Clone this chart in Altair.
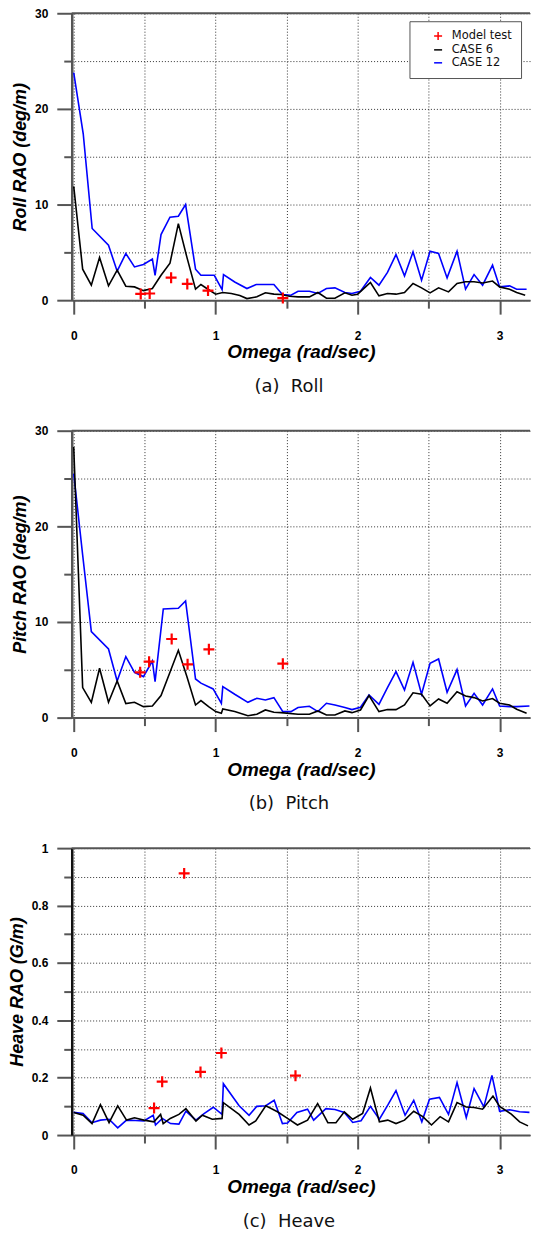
import altair as alt
import pandas as pd

# ---------------- data ----------------
SERIES = ["Model test", "CASE 6", "CASE 12"]
SERIES_COLORS = ["#ff0000", "#000000", "#0000ff"]
PLUS = "M-1,0L1,0M0,-1L0,1"
SERIES_SHAPES = [PLUS, "stroke", "stroke"]

# (a) Roll
roll_c6_x = [0, 0.063, 0.124, 0.182, 0.245, 0.306, 0.367, 0.428, 0.491, 0.554, 0.615, 0.678, 0.737, 0.797,
             0.858, 0.896, 0.94, 1.0, 1.05, 1.11, 1.17, 1.22, 1.29, 1.35, 1.41, 1.46, 1.52, 1.58, 1.66, 1.72,
             1.78, 1.84, 1.91, 1.96, 2.0, 2.09, 2.15, 2.21, 2.27, 2.33, 2.39, 2.45, 2.51, 2.57, 2.64, 2.7,
             2.76, 2.82, 2.88, 2.95, 3.0, 3.07, 3.12, 3.18]
roll_c6_y = [11.9, 3.24, 1.57, 4.46, 1.5, 3.14, 1.46, 1.39, 1.0, 1.22, 2.6, 3.87, 8.0, 4.5,
             1.15, 1.64, 1.2, 0.63, 0.8, 0.7, 0.5, 0.17, 0.35, 0.77, 0.63, 0.6, 0.42, 0.35, 0.35, 0.8,
             0.2, 0.2, 0.77, 0.52, 0.63, 1.85, 0.45, 0.7, 0.63, 0.8, 1.74, 1.29, 0.77, 1.29, 0.87, 1.74,
             1.92, 1.92, 1.8, 2.0, 1.39, 1.15, 0.8, 0.52]
roll_c12_x = [0, 0.067, 0.13, 0.245, 0.306, 0.367, 0.428, 0.491, 0.554, 0.573, 0.615, 0.678, 0.737, 0.788,
              0.858, 0.896, 0.99, 1.045, 1.055, 1.134, 1.22, 1.286, 1.41, 1.47, 1.53, 1.58, 1.66, 1.72,
              1.78, 1.84, 1.91, 1.96, 2.02, 2.09, 2.15, 2.21, 2.27, 2.33, 2.39, 2.45, 2.51, 2.57, 2.63,
              2.7, 2.76, 2.82, 2.88, 2.95, 3.0, 3.07, 3.12, 3.19]
roll_c12_y = [23.8, 17.4, 7.5, 5.75, 3.03, 4.88, 3.48, 3.73, 4.29, 2.6, 6.86, 8.68, 8.78, 10.0,
              3.24, 2.6, 2.6, 1.1, 2.68, 1.9, 1.22, 1.64, 1.64, 0.6, 0.52, 0.94, 0.94, 0.7,
              1.22, 1.29, 0.8, 0.7, 0.94, 2.37, 1.57, 2.9, 4.77, 2.54, 5.05, 2.09, 5.12, 4.88, 2.33,
              5.12, 1.15, 2.68, 1.57, 3.66, 1.39, 1.5, 1.15, 1.15]
roll_mt_x = [0.472, 0.535, 0.686, 0.8, 0.946, 1.473]
roll_mt_y = [0.65, 0.7, 2.35, 1.7, 1.0, 0.22]

# (b) Pitch
pitch_c6_x = [0, 0.063, 0.124, 0.182, 0.245, 0.306, 0.367, 0.428, 0.491, 0.554, 0.615, 0.678, 0.737, 0.797,
              0.858, 0.896, 0.95, 1.0, 1.04, 1.05, 1.134, 1.227, 1.29, 1.35, 1.41, 1.46, 1.58, 1.66, 1.72,
              1.78, 1.84, 1.91, 1.96, 2.02, 2.08, 2.15, 2.21, 2.27, 2.33, 2.39, 2.45, 2.51, 2.57, 2.63,
              2.7, 2.76, 2.82, 2.88, 2.95, 3.0, 3.07, 3.12, 3.19]
pitch_c6_y = [28.3, 3.14, 1.6, 5.16, 1.6, 3.83, 1.46, 1.6, 1.15, 1.22, 2.3, 4.74, 7.04, 4.29,
              1.32, 1.78, 1.15, 0.63, 0.45, 0.9, 0.63, 0.2, 0.35, 0.8, 0.56, 0.52, 0.35, 0.35, 0.7,
              0.28, 0.28, 0.7, 0.52, 0.8, 2.3, 0.63, 0.84, 0.84, 1.32, 2.6, 2.44, 1.22, 1.95, 1.5,
              2.7, 2.27, 2.09, 1.74, 2.0, 1.5, 1.32, 0.87, 0.45]
pitch_c12_x = [0, 0.063, 0.124, 0.245, 0.306, 0.367, 0.428, 0.491, 0.554, 0.573, 0.631, 0.737, 0.788,
               0.858, 0.896, 0.982, 1.04, 1.05, 1.134, 1.227, 1.29, 1.35, 1.41, 1.473, 1.53, 1.58, 1.66,
               1.72, 1.78, 1.84, 1.91, 1.96, 2.02, 2.08, 2.15, 2.21, 2.27, 2.33, 2.39, 2.45, 2.51, 2.57,
               2.63, 2.7, 2.76, 2.82, 2.88, 2.95, 3.0, 3.07, 3.12, 3.21]
pitch_c12_y = [25.5, 17.0, 9.0, 7.18, 3.83, 6.38, 4.74, 4.29, 5.92, 3.76, 11.36, 11.43, 12.2,
               4.04, 3.6, 3.0, 1.5, 3.24, 2.44, 1.6, 2.02, 1.85, 2.09, 0.63, 0.63, 1.05, 1.19,
               0.63, 1.5, 1.32, 1.05, 0.84, 1.08, 2.37, 1.39, 3.14, 4.81, 2.89, 5.78, 2.44, 5.68, 6.13,
               2.65, 5.02, 1.22, 2.54, 1.32, 3.0, 1.22, 1.15, 1.15, 1.22]
pitch_mt_x = [0.468, 0.531, 0.69, 0.802, 0.952, 1.473]
pitch_mt_y = [4.74, 5.85, 8.22, 5.57, 7.14, 5.64]

# (c) Heave
heave_c6_x = [0, 0.066, 0.129, 0.188, 0.249, 0.31, 0.372, 0.428, 0.494, 0.565, 0.612, 0.63, 0.68, 0.741,
              0.79, 0.861, 0.906, 0.976, 1.045, 1.054, 1.165, 1.235, 1.282, 1.353, 1.435, 1.506, 1.576,
              1.647, 1.718, 1.79, 1.847, 1.906, 1.965, 2.035, 2.09, 2.153, 2.212, 2.27, 2.33, 2.395,
              2.459, 2.52, 2.581, 2.64, 2.7, 2.765, 2.82, 2.88, 2.953, 3.0, 3.082, 3.141, 3.2]
heave_c6_y = [0.079, 0.069, 0.04, 0.106, 0.043, 0.102, 0.052, 0.06, 0.052, 0.046, 0.072, 0.04, 0.058, 0.072,
              0.092, 0.049, 0.069, 0.055, 0.058, 0.113, 0.072, 0.035, 0.049, 0.102, 0.081, 0.058, 0.035,
              0.052, 0.11, 0.043, 0.043, 0.081, 0.055, 0.075, 0.164, 0.046, 0.052, 0.04, 0.052, 0.083,
              0.064, 0.035, 0.064, 0.046, 0.113, 0.098, 0.096, 0.09, 0.136, 0.1, 0.073, 0.046, 0.032]
heave_c12_x = [0, 0.066, 0.129, 0.188, 0.249, 0.31, 0.372, 0.435, 0.494, 0.56, 0.576, 0.624, 0.682, 0.741,
               0.79, 0.861, 0.918, 0.983, 1.045, 1.054, 1.165, 1.235, 1.289, 1.353, 1.412, 1.47, 1.506,
               1.572, 1.647, 1.69, 1.776, 1.84, 1.906, 1.965, 2.024, 2.09, 2.153, 2.212, 2.27, 2.334,
               2.395, 2.452, 2.506, 2.576, 2.64, 2.7, 2.765, 2.82, 2.889, 2.946, 3.0, 3.071, 3.141, 3.21]
heave_c12_y = [0.079, 0.075, 0.043, 0.052, 0.055, 0.025, 0.052, 0.051, 0.049, 0.069, 0.035, 0.058, 0.04, 0.038,
               0.083, 0.052, 0.075, 0.097, 0.072, 0.179, 0.102, 0.069, 0.1, 0.102, 0.121, 0.04, 0.042,
               0.079, 0.09, 0.052, 0.092, 0.089, 0.079, 0.044, 0.05, 0.1, 0.055, 0.104, 0.155, 0.069,
               0.121, 0.046, 0.125, 0.131, 0.072, 0.183, 0.061, 0.162, 0.098, 0.208, 0.083, 0.088, 0.081, 0.079]
heave_mt_x = [0.566, 0.623, 0.778, 0.893, 1.04, 1.562]
heave_mt_y = [0.094, 0.186, 0.912, 0.22, 0.286, 0.207]

X_MAJOR = [0, 1, 2, 3]
X_MINOR = [0.5, 1.5, 2.5]
X_DOMAIN = [-0.014, 3.214]

FONT = "Liberation Sans"
WIDE_FONT = "DejaVu Sans"
AX_GRAY = "#555555"
GRID_GRAY = "#333333"

PANEL_W = 460
PANEL_H = 288


def make_panel(c6x, c6y, c12x, c12y, mtx, mty, ydomain, ymajor, yminor, yfmt, ytitle, caption,
               yaxis_color):
    d6 = pd.DataFrame({"omega": c6x, "rao": c6y, "series": "CASE 6"})
    d12 = pd.DataFrame({"omega": c12x, "rao": c12y, "series": "CASE 12"})
    dmt = pd.DataFrame({"omega": mtx, "rao": mty, "series": "Model test"})

    xs = alt.Scale(domain=X_DOMAIN, nice=False, zero=False)
    ys = alt.Scale(domain=ydomain, nice=False, zero=False)

    legend = alt.Legend(
        title=None, orient="none", legendX=339, legendY=8,
        labelFont=WIDE_FONT, labelFontSize=11.5, labelColor="#111111",
        symbolSize=64, symbolStrokeWidth=1.5, symbolOffset=14, labelOffset=8,
        rowPadding=0, padding=9, strokeColor=AX_GRAY, fillColor="white",
    )
    color = alt.Color("series:N", scale=alt.Scale(domain=SERIES, range=SERIES_COLORS), legend=legend)
    shape = alt.Shape("series:N", scale=alt.Scale(domain=SERIES, range=SERIES_SHAPES), legend=legend)

    grid_kw = dict(grid=True, gridDash=[1, 2], gridColor=GRID_GRAY, gridWidth=1)
    x_major = alt.Axis(orient="bottom", values=X_MAJOR, format="d", tickSize=14, tickWidth=2,
                       tickColor=AX_GRAY, labelPadding=16, labelFont=FONT, labelFontSize=12,
                       labelFontWeight="bold", labelColor="black",
                       title="Omega (rad/sec)", titleFont=FONT, titleFontSize=19, titleFontWeight="bold",
                       titleFontStyle="italic", titlePadding=2, titleColor="black",
                       domain=True, domainColor=AX_GRAY, domainWidth=2, **grid_kw)
    x_minor = alt.Axis(orient="bottom", values=X_MINOR, tickSize=8, tickWidth=2, tickColor=AX_GRAY,
                       labels=False, title=None, domain=False, **grid_kw)
    y_major = alt.Axis(orient="left", values=ymajor, format=yfmt, tickSize=15, tickWidth=2,
                       tickColor=AX_GRAY, labelPadding=9, labelFont=FONT, labelFontSize=12,
                       labelFontWeight="bold", labelColor="black",
                       title=ytitle, titleFont=FONT, titleFontSize=18, titleFontWeight="bold",
                       titleFontStyle="italic", titlePadding=5, titleColor="black",
                       domain=True, domainColor=yaxis_color, domainWidth=2.5, **grid_kw)
    y_minor = alt.Axis(orient="left", values=yminor, tickSize=8, tickWidth=2, tickColor=AX_GRAY,
                       labels=False, title=None, domain=False, **grid_kw)

    frame_top = alt.Chart(pd.DataFrame({"v": [ydomain[1]]})).mark_rule(
        color=AX_GRAY, strokeWidth=2).encode(y=alt.Y("v:Q", scale=ys, axis=None))

    case12 = alt.Chart(d12).mark_line(strokeWidth=1.6).encode(
        x=alt.X("omega:Q", scale=xs, axis=x_minor),
        y=alt.Y("rao:Q", scale=ys, axis=y_minor),
        color=color, order="omega:Q")
    case6 = alt.Chart(d6).mark_line(strokeWidth=1.6).encode(
        x=alt.X("omega:Q", scale=xs, axis=x_major),
        y=alt.Y("rao:Q", scale=ys, axis=y_major),
        color=color, order="omega:Q")
    model = alt.Chart(dmt).mark_point(filled=False, size=121, strokeWidth=2.2, opacity=1).encode(
        x=alt.X("omega:Q", scale=xs, axis=None),
        y=alt.Y("rao:Q", scale=ys, axis=None),
        color=color, shape=shape)

    return alt.layer(frame_top, case12, case6, model).resolve_axis(
        x="independent", y="independent"
    ).properties(
        width=PANEL_W, height=PANEL_H,
        title=alt.TitleParams(caption, orient="bottom", anchor="middle", font=WIDE_FONT, fontSize=18,
                              fontWeight="normal", color="#111111", offset=16, dx=-12),
    )


roll = make_panel(roll_c6_x, roll_c6_y, roll_c12_x, roll_c12_y, roll_mt_x, roll_mt_y,
                  [0, 30], [0, 10, 20, 30], [5, 15, 25], "d", "Roll RAO (deg/m)",
                  "(a)\u00a0\u00a0Roll", AX_GRAY)
pitch = make_panel(pitch_c6_x, pitch_c6_y, pitch_c12_x, pitch_c12_y, pitch_mt_x, pitch_mt_y,
                   [0, 30], [0, 10, 20, 30], [5, 15, 25], "d", "Pitch RAO (deg/m)",
                   "(b)\u00a0\u00a0Pitch", AX_GRAY)
heave = make_panel(heave_c6_x, heave_c6_y, heave_c12_x, heave_c12_y, heave_mt_x, heave_mt_y,
                   [0, 1], [0, 0.2, 0.4, 0.6, 0.8, 1], [0.1, 0.3, 0.5, 0.7, 0.9], "~g",
                   "Heave RAO (G/m)", "(c)\u00a0\u00a0Heave", "#111111")

chart = alt.vconcat(roll, pitch, heave, spacing=131, bounds="flush").properties(
    padding={"left": 8, "top": 5, "right": 0, "bottom": 0},
    background="white",
).configure_view(stroke=None).configure_concat(spacing=131)

chart.save("out.html", embed_options={"renderer": "svg", "actions": False})
